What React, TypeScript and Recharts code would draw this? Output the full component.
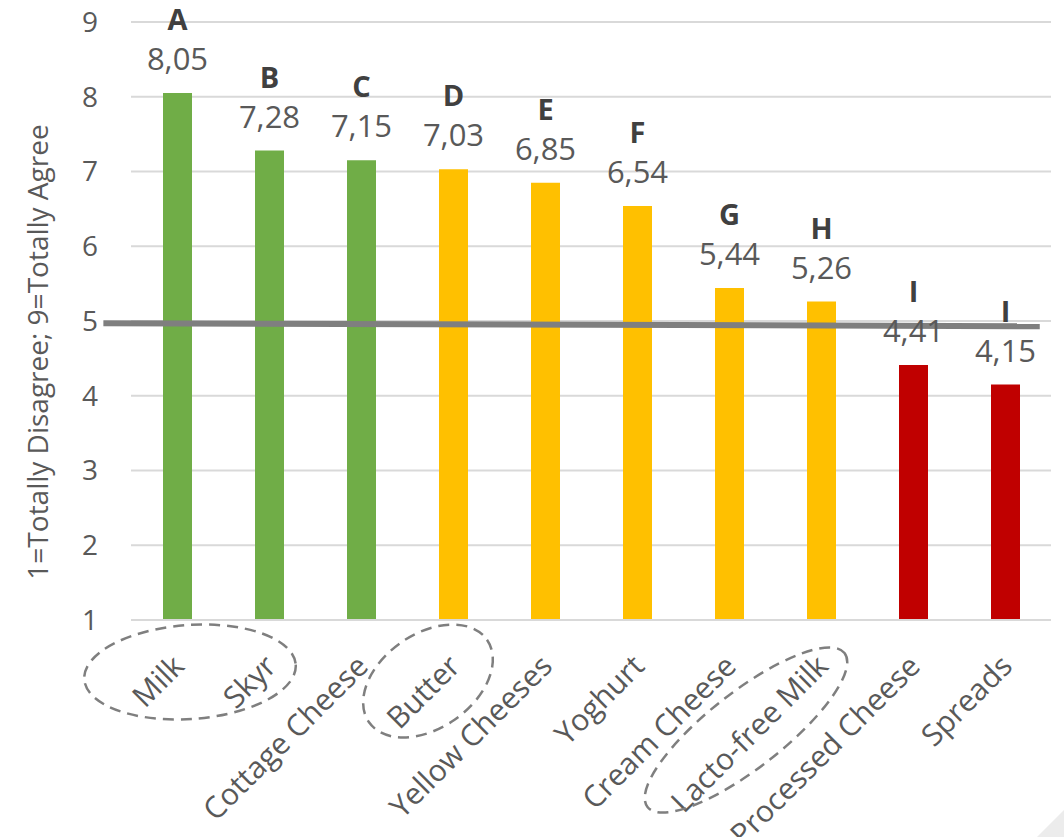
import {
  BarChart,
  Bar,
  XAxis,
  YAxis,
  CartesianGrid,
  Cell,
  LabelList,
  ReferenceLine,
} from "recharts";

const categories = [
  "Milk",
  "Skyr",
  "Cottage Cheese",
  "Butter",
  "Yellow Cheeses",
  "Yoghurt",
  "Cream Cheese",
  "Lacto-free Milk",
  "Processed Cheese",
  "Spreads",
];
const scores = [8.05, 7.28, 7.15, 7.03, 6.85, 6.54, 5.44, 5.26, 4.41, 4.15];
const groupLetters = ["A", "B", "C", "D", "E", "F", "G", "H", "I", "I"];
const barColors = [
  "#70ad47",
  "#70ad47",
  "#70ad47",
  "#ffc000",
  "#ffc000",
  "#ffc000",
  "#ffc000",
  "#ffc000",
  "#c00000",
  "#c00000",
];
const yTicks = [1, 2, 3, 4, 5, 6, 7, 8, 9];
// neutral line, on a hidden 0..9 axis spanning the plot width
const neutralX = [-0.27, 8.89];
const neutralY = [4.97, 4.93];

const FONT = "'Open Sans', 'DejaVu Sans', sans-serif";
const TEXT = "#595959";

const W = 1064;
const H = 837;

const chartData = categories.map((name, i) => ({ name, value: scores[i] }));

const XTick = (props: any) => {
  const { x, y, payload } = props;
  const px = x + 9;
  const py = y + 46;
  return (
    <text
      x={px}
      y={py}
      transform={`rotate(-45, ${px}, ${py})`}
      textAnchor="end"
      fill={TEXT}
      fontSize={30}
      fontFamily={FONT}
    >
      {payload.value}
    </text>
  );
};

const BarLabel = (props: any) => {
  const { x, y, width, value, index } = props;
  const cx = x + width / 2;
  return (
    <g>
      <text x={cx} y={y - 63} textAnchor="middle" fill="#404040" fontSize={29} fontWeight="bold" fontFamily={FONT}>
        {groupLetters[index]}
      </text>
      <text x={cx} y={y - 23} textAnchor="middle" fill={TEXT} fontSize={31} fontFamily={FONT}>
        {Number(value).toFixed(2).replace(".", ",")}
      </text>
    </g>
  );
};

const YLabel = () => (
  <text
    x={48}
    y={352}
    transform="rotate(-90, 48, 352)"
    textAnchor="middle"
    fill={TEXT}
    fontSize={28}
    fontFamily={FONT}
  >
    1=Totally Disagree; 9=Totally Agree
  </text>
);

// dashed ellipses around the highlighted labels
const Highlights = () => (
  <svg width={W} height={H} style={{ position: "absolute", left: 0, top: 0, pointerEvents: "none" }}>
    <g fill="none" stroke="#7f7f7f" strokeWidth={2.5} strokeDasharray="11 7">
      <ellipse cx={190} cy={672} rx={106} ry={47} transform="rotate(-4, 190, 672)" />
      <ellipse cx={428} cy={681} rx={72} ry={47} transform="rotate(-35, 428, 681)" />
      <ellipse cx={746} cy={730} rx={125} ry={38} transform="rotate(-38, 746, 730)" />
    </g>
    <polygon points="1037,837 1064,810 1064,837" fill="#ececec" />
  </svg>
);

export default function App() {
  return (
    <div style={{ position: "absolute", left: 0, top: 0, width: W, height: H, background: "#fff" }}>
      <BarChart
        width={W}
        height={H}
        data={chartData}
        margin={{ top: 22, right: 13, left: 0, bottom: 0 }}
        barCategoryGap={0}
      >
        <CartesianGrid vertical={false} stroke="#d9d9d9" strokeWidth={2} />
        <XAxis
          dataKey="name"
          height={217}
          interval={0}
          tickLine={false}
          tickSize={0}
          axisLine={{ stroke: "#d9d9d9", strokeWidth: 2 }}
          tick={<XTick />}
        />
        <XAxis xAxisId="n" type="number" domain={[0, 9]} allowDataOverflow hide />
        <YAxis
          width={131}
          domain={[1, 9]}
          ticks={yTicks}
          interval={0}
          axisLine={false}
          tickLine={false}
          tickSize={0}
          tickMargin={33}
          tick={{ fill: TEXT, fontSize: 28, fontFamily: FONT }}
          label={<YLabel />}
        />
        <Bar dataKey="value" barSize={29} isAnimationActive={false}>
          {chartData.map((d, i) => (
            <Cell key={d.name} fill={barColors[i]} />
          ))}
          <LabelList dataKey="value" content={<BarLabel />} />
        </Bar>
        <ReferenceLine
          xAxisId="n"
          segment={[
            { x: neutralX[0], y: neutralY[0] },
            { x: neutralX[1], y: neutralY[1] },
          ]}
          stroke="#7f7f7f"
          strokeWidth={6}
          ifOverflow="visible"
        />
      </BarChart>
      <Highlights />
    </div>
  );
}
